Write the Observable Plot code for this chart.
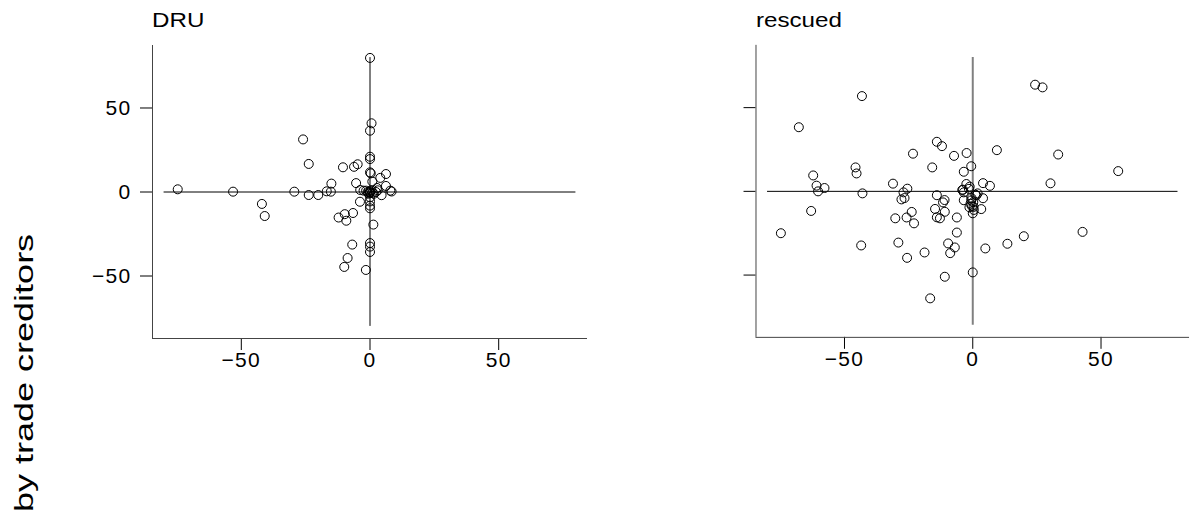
<!DOCTYPE html>
<html>
<head>
<meta charset="utf-8">
<script src="https://cdn.jsdelivr.net/npm/d3@7"></script>
<script src="https://cdn.jsdelivr.net/npm/@observablehq/plot@0.6"></script>
<style>
  html, body { margin: 0; padding: 0; background: #fff; }
  body { font-family: "Liberation Sans", Arial, Helvetica, sans-serif; color: #000; }
  #wrap { position: relative; width: 1202px; height: 517px; overflow: hidden; }
  .panel { position: absolute; top: 0; }
  .title { position: absolute; font-size: 21px; line-height: 21px; white-space: nowrap;
           transform-origin: 0 0; transform: scale(1.15, 1); }
  #ylab { position: absolute; left: 12px; top: 512px; font-size: 25px; line-height: 25px;
          transform-origin: 0 0; transform: rotate(-90deg) scale(1.44, 1); white-space: nowrap; }
</style>
</head>
<body>
<div id="wrap">
  <div class="title" id="t1" style="left:152px; top:9px;"></div>
  <div class="title" id="t2" style="left:756px; top:9px;"></div>
  <div id="ylab">by trade creditors</div>
  <div class="panel" id="p1" style="left:0px;"></div>
  <div class="panel" id="p2" style="left:604px;"></div>
</div>
<script>
// ---- data ----
const panelTitles = ["DRU", "rescued"];
const tickValues = [-50, 0, 50];
const refExtent = [-80, 80];

const druPoints = [
  [0, 79.8], [0.6, 40.9], [0, 36.5], [-26.0, 31.3], [0, 21.0], [0, 19.6],
  [-23.8, 16.7], [-10.5, 14.7], [-6.2, 15.0], [-4.8, 16.5], [0, 11.7], [0.3, 11.1],
  [6.2, 10.7], [4.0, 8.4], [-5.4, 5.3], [-15.0, 5.0], [0.9, 6.2], [6.2, 3.6],
  [-74.7, 1.6], [-53.2, 0.2], [-29.4, 0.2], [-23.8, -1.8], [-20.1, -1.8], [-16.8, 0.4],
  [-15.2, 0.2], [-3.8, 1.2], [-2.5, 0.8], [-0.9, 0], [0, 0], [0, 0.5], [0, -0.5],
  [1.0, -0.4], [2.3, 0], [2.7, 2.4], [4.5, -1.9], [7.9, 0.8], [8.4, 0.3],
  [-3.9, -5.8], [0, -3.2], [0, -5.6], [0, -8.1], [0, -9.7], [-42.0, -7.1], [-40.9, -14.3],
  [-12.2, -15.2], [-9.8, -13.2], [-9.2, -17.1], [-6.6, -12.5], [1.3, -19.4], [-6.9, -31.3],
  [0, -30.4], [0, -32.5], [0, -35.7], [-8.7, -39.3], [-10.0, -44.6], [-1.6, -46.4],
  [-1.5, 0.8], [0.5, 1.0], [1.5, -1.0], [3.0, 1.0], [-0.5, -1.0]
];

const rescuedPoints = [
  [24.3, 63.7], [27.2, 62.1], [-43.2, 56.9], [-67.8, 38.3], [-14.0, 29.6], [-12.0, 27.0],
  [-23.3, 22.5], [-7.3, 21.2], [-2.4, 22.9], [9.4, 24.6], [33.3, 22.0], [56.7, 12.1],
  [-15.8, 14.3], [-0.6, 15.0], [-3.5, 11.7], [-45.7, 14.3], [-45.3, 10.7], [-62.2, 9.5],
  [-60.9, 3.4], [-60.3, 0], [-57.8, 2.0], [-43.0, -1.2], [-31.1, 4.6], [-25.5, 1.6],
  [-27.0, -0.6], [-26.6, -4.0], [-27.8, -4.8], [-14.0, -2.3], [-11.0, -5.2], [-11.6, -6.6],
  [-14.7, -10.5], [-10.9, -12.2], [-23.8, -12.3], [-30.2, -16.1], [-25.8, -15.6], [-22.9, -19.1],
  [-14.0, -15.5], [-12.8, -16.1], [-6.2, -15.6], [-6.2, -24.6], [-9.6, -31.1], [-7.0, -33.5],
  [-8.8, -36.9], [-29.0, -30.6], [-25.6, -39.7], [-18.8, -36.5], [-43.5, -32.3], [-74.8, -25.0],
  [-63.0, -11.7], [-10.9, -51.0], [-16.6, -63.9], [0, -48.4], [4.9, -34.1], [13.5, -31.3],
  [19.9, -26.8], [42.8, -24.2], [30.3, 4.8], [4.0, 4.9], [6.7, 3.3], [4.0, -4.1],
  [3.3, -10.6], [1.9, -1.2], [1.4, -2.4], [-2.5, 4.4], [-1.2, 2.8], [-3.8, 1.0],
  [-3.5, -0.6], [-3.5, -5.3], [-0.6, -5.4], [-0.9, -7.4], [-0.3, -8.9], [0.3, -9.3],
  [0, -13.1], [0.4, -11.1], [-1.3, -9.5], [-0.5, -4.0], [-4.1, 0.8], [-1.5, 1.5],
  [1.0, -2.0], [0.2, -6.5]
];

// ---- drawing ----
const xDomain = [-84.5, 84.5];
const yDomain = [-87.2, 87.2];
const axisColor = "#444";
const fmt = d => d < 0 ? "\u2212" + Math.abs(d) : String(d);

function panel(points, showYLabels, vStroke, vWidth) {
  const pts = points.map(([x, y]) => ({x, y}));
  const svg = Plot.plot({
    width: 600,
    height: 400,
    marginLeft: 152,
    marginRight: 13,
    marginTop: 45,
    marginBottom: 62,
    style: {fontFamily: '"Liberation Sans", Arial, Helvetica, sans-serif', fontSize: "21px", color: "#000", background: "transparent", overflow: "visible"},
    x: {domain: xDomain, ticks: tickValues, tickSize: 12, tickPadding: 2, label: null, tickFormat: fmt},
    y: {domain: yDomain, ticks: tickValues, tickSize: 12, tickPadding: 9, label: null,
        tickFormat: showYLabels ? fmt : (() => "")},
    marks: [
      Plot.ruleX([xDomain[0]], {y1: yDomain[0], y2: yDomain[1], stroke: axisColor, strokeWidth: 1}),
      Plot.ruleY([yDomain[0]], {x1: xDomain[0], x2: xDomain[1], stroke: axisColor, strokeWidth: 1}),
      Plot.ruleY([0], {x1: refExtent[0], x2: refExtent[1], stroke: "#000", strokeWidth: 1}),
      Plot.ruleX([0], {y1: refExtent[0], y2: refExtent[1], stroke: vStroke, strokeWidth: vWidth}),
      Plot.dot(pts, {x: "x", y: "y", r: 4.5, stroke: "#000", strokeWidth: 1, fill: "none"})
    ]
  });
  d3.select(svg).selectAll("text").style("letter-spacing", "1.3px");
  return svg;
}

document.getElementById("t1").textContent = panelTitles[0];
document.getElementById("t2").textContent = panelTitles[1];
document.getElementById("p1").appendChild(panel(druPoints, true, "#000", 1));
document.getElementById("p2").appendChild(panel(rescuedPoints, false, "#808080", 2));
</script>
</body>
</html>
